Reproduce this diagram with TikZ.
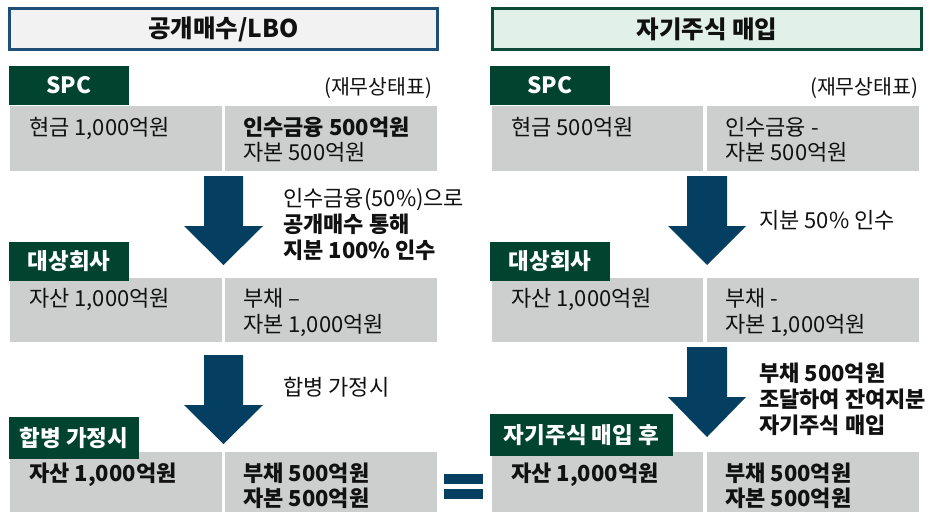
\documentclass[tikz,border=0pt]{standalone}
\usepackage{fontspec}
\setmainfont{Noto Sans CJK KR}
\definecolor{labelgreen}{HTML}{00432F}
\definecolor{arrowblue}{HTML}{043F62}
\definecolor{cellgray}{HTML}{CDCFCE}
\definecolor{titlegrayfill}{HTML}{F2F2F2}
\definecolor{titleblue}{HTML}{1F4E79}
\definecolor{titlemint}{HTML}{E2F0EA}
\definecolor{titlegreen}{HTML}{0B4A36}
\definecolor{txt}{HTML}{111111}
\tikzset{
  x=1pt, y=-1pt,
  cell/.style={fill=cellgray, draw=none},
  lab/.style={fill=labelgreen, draw=none},
  labtext/.style={text=white, font=\fontsize{22.5}{26}\selectfont\bfseries, inner sep=0pt},
  body/.style={anchor=base west, inner sep=0pt, text=txt, font=\fontsize{22}{26}\selectfont},
  bodyb/.style={body, font=\fontsize{22}{26}\selectfont\bfseries},
  note/.style={anchor=east, inner sep=0pt, text=txt, font=\fontsize{20.5}{24}\selectfont},
  titletext/.style={text=txt, font=\fontsize{24.5}{28}\selectfont\bfseries, inner sep=0pt},
  blockarrow/.style={fill=arrowblue, draw=none},
}
\begin{document}
\begin{tikzpicture}
\useasboundingbox (0,0) rectangle (936,512);

% ---------- titles ----------
\draw[titleblue, line width=3pt, fill=titlegrayfill] (9.5,8.5) rectangle (437.5,49.5);
\node[titletext] (t1) at (223.5,29) {공개매수/LBO};
\draw[titlegreen, line width=3pt, fill=titlemint] (492.5,8.5) rectangle (921.5,49.5);
\node[titletext] (t2) at (707,29) {자기주식 매입};

% ---------- left column ----------
% SPC
\path[lab] (9,66) rectangle (129,105);
\node[labtext] (lspc) at (69,85.5) {SPC};
\node[note] (lnote) at (432.5,88.5) {(재무상태표)};
\path[cell] (10,106) rectangle (222,171);
\path[cell] (225,106) rectangle (437,171);
\node[body] (l1a) at (29,135) {현금 1,000억원};
\node[bodyb] (l1b) at (243,135) {인수금융 500억원};
\node[body] (l1c) at (243,160) {자본 500억원};
% arrow 1
\path[blockarrow] (204,176) -- (243,176) -- (243,226) -- (263,226) -- (223.5,265) -- (184,226) -- (204,226) -- cycle;
\node[body] (la1) at (283,206) {인수금융(50\%)으로};
\node[bodyb] (la2) at (283,232) {공개매수 통해};
\node[bodyb] (la3) at (283,258) {지분 100\% 인수};
% target company
\path[cell] (10,278) rectangle (222,342);
\path[cell] (225,278) rectangle (437,342);
\path[lab] (9,242) rectangle (129,281);
\node[labtext] (ltgt) at (69,261.5) {대상회사};
\node[body] (l2a) at (29,306) {자산 1,000억원};
\node[body] (l2b) at (243,306) {부채 –};
\node[body] (l2c) at (243,332) {자본 1,000억원};
% arrow 3
\path[blockarrow] (204,355) -- (243,355) -- (243,405) -- (263,405) -- (223.5,444) -- (184,405) -- (204,405) -- cycle;
\node[body] (lb1) at (283,395) {합병 가정시};
% merger
\path[cell] (10,452) rectangle (222,512);
\path[cell] (225,452) rectangle (437,512);
\path[lab] (9,417) rectangle (139,459);
\node[labtext] (lmrg) at (74,438) {합병 가정시};
\node[bodyb] (l3a) at (29,481) {자산 1,000억원};
\node[bodyb] (l3b) at (243,481) {부채 500억원};
\node[bodyb] (l3c) at (243,506) {자본 500억원};

% equals sign
\path[blockarrow] (444,474) rectangle (483,484);
\path[blockarrow] (444,489) rectangle (483,499);

% ---------- right column ----------
\path[lab] (490,66) rectangle (610,105);
\node[labtext] (rspc) at (550,85.5) {SPC};
\node[note] (rnote) at (918.5,88.5) {(재무상태표)};
\path[cell] (492,106) rectangle (703,171);
\path[cell] (707,106) rectangle (919,171);
\node[body] (r1a) at (511,135) {현금 500억원};
\node[body] (r1b) at (725,135) {인수금융 -};
\node[body] (r1c) at (725,160) {자본 500억원};
% arrow 2
\path[blockarrow] (687,176) -- (727,176) -- (727,226) -- (746,226) -- (707,265) -- (668,226) -- (687,226) -- cycle;
\node[body] (ra1) at (759,228) {지분 50\% 인수};
% target company
\path[cell] (492,278) rectangle (703,342);
\path[cell] (707,278) rectangle (919,342);
\path[lab] (490,242) rectangle (610,281);
\node[labtext] (rtgt) at (550,261.5) {대상회사};
\node[body] (r2a) at (511,306) {자산 1,000억원};
\node[body] (r2b) at (725,306) {부채 -};
\node[body] (r2c) at (725,332) {자본 1,000억원};
% arrow 4
\path[blockarrow] (687,347) -- (727,347) -- (727,397) -- (746,397) -- (707,437) -- (668,397) -- (687,397) -- cycle;
\node[bodyb] (rb1) at (759,381) {부채 500억원};
\node[bodyb] (rb2) at (759,407) {조달하여 잔여지분};
\node[bodyb] (rb3) at (759,433) {자기주식 매입};
% after buyback
\path[cell] (492,452) rectangle (703,512);
\path[cell] (707,452) rectangle (919,512);
\path[lab] (490,414) rectangle (673,456);
\node[labtext] (rbuy) at (581.5,435) {자기주식 매입 후};
\node[bodyb] (r3a) at (511,481) {자산 1,000억원};
\node[bodyb] (r3b) at (725,481) {부채 500억원};
\node[bodyb] (r3c) at (725,506) {자본 500억원};
\end{tikzpicture}
\end{document}
